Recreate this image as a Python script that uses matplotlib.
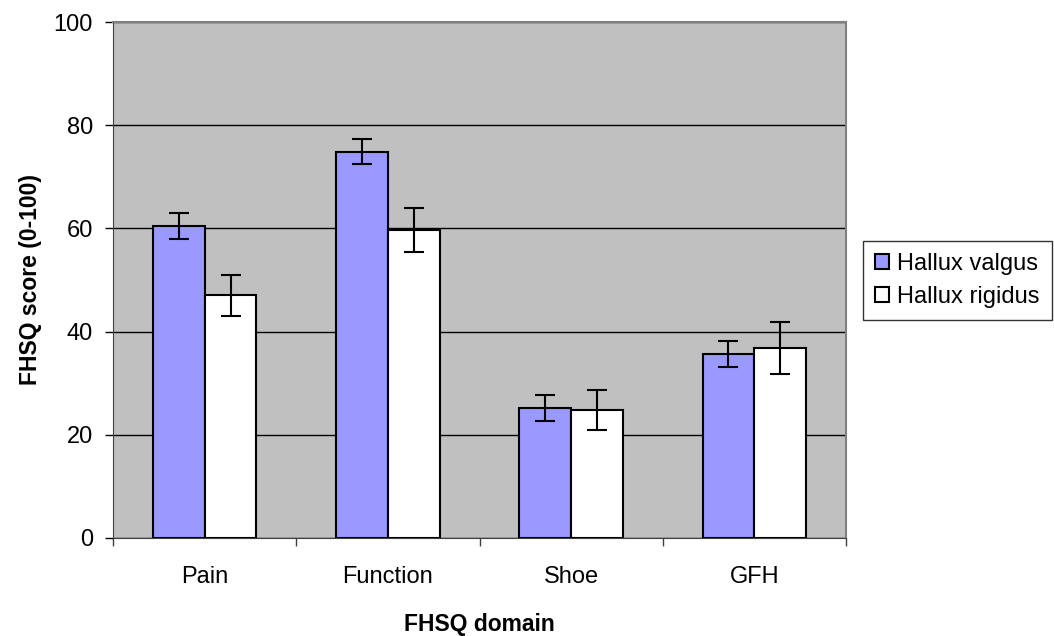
import numpy as np
import matplotlib
matplotlib.use("Agg")
import matplotlib.pyplot as plt

plt.rcParams["font.family"] = ["Liberation Sans", "DejaVu Sans"]

domains = ["Pain", "Function", "Shoe", "GFH"]
valgus = [60.4, 74.9, 25.2, 35.7]
valgus_err = [2.5, 2.5, 2.5, 2.5]
rigidus = [47.0, 59.7, 24.8, 36.8]
rigidus_err = [3.9, 4.3, 3.9, 5.1]

fig = plt.figure(figsize=(10.54, 6.36), dpi=100)
ax = fig.add_axes([0.1072, 0.1541, 0.6955, 0.8113])
ax.set_facecolor("#C0C0C0")

x = np.arange(len(domains))
w = 0.283
err_kw = dict(ecolor="black", elinewidth=1.5, capsize=7, capthick=1.5)
ax.bar(x - w / 2, valgus, w, yerr=valgus_err, color="#9999FF",
       edgecolor="black", linewidth=1.5, label="Hallux valgus",
       error_kw=err_kw, zorder=3)
ax.bar(x + w / 2, rigidus, w, yerr=rigidus_err, color="white",
       edgecolor="black", linewidth=1.5, label="Hallux rigidus",
       error_kw=err_kw, zorder=3)

ax.set_ylim(0, 100)
ax.set_xlim(-0.5, len(domains) - 0.5)
ax.set_yticks(range(0, 101, 20))
ax.yaxis.grid(True, color="black", linewidth=1)
ax.set_axisbelow(True)

ax.set_xticks(np.arange(-0.5, len(domains)), labels=[""] * (len(domains) + 1))
ax.set_xticks(x, labels=domains, minor=True)
ax.tick_params(axis="x", which="major", direction="out", length=6, width=1, color="#404040")
ax.tick_params(axis="x", which="minor", length=0, pad=20, labelsize=17)
ax.tick_params(axis="y", direction="out", length=6, width=1, labelsize=17, pad=8.5)

for s in ["top", "right"]:
    ax.spines[s].set_color("#808080")
    ax.spines[s].set_linewidth(1.5)
ax.spines["left"].set_color("#404040")
ax.spines["bottom"].set_color("#404040")

ax.set_ylabel("FHSQ score (0-100)", fontsize=16.5, fontweight="bold", labelpad=8)
ax.set_xlabel("FHSQ domain", fontsize=16.5, fontweight="bold", labelpad=18)

leg = fig.legend(loc="center left", bbox_to_anchor=(0.819, 0.559), fontsize=17,
                 frameon=True, fancybox=False, edgecolor="black",
                 handlelength=0.6, handleheight=0.6, handletextpad=0.35,
                 borderpad=0.5, labelspacing=0.45, borderaxespad=0)
leg.get_frame().set_linewidth(1)

fig.savefig("out.png", dpi=100)
